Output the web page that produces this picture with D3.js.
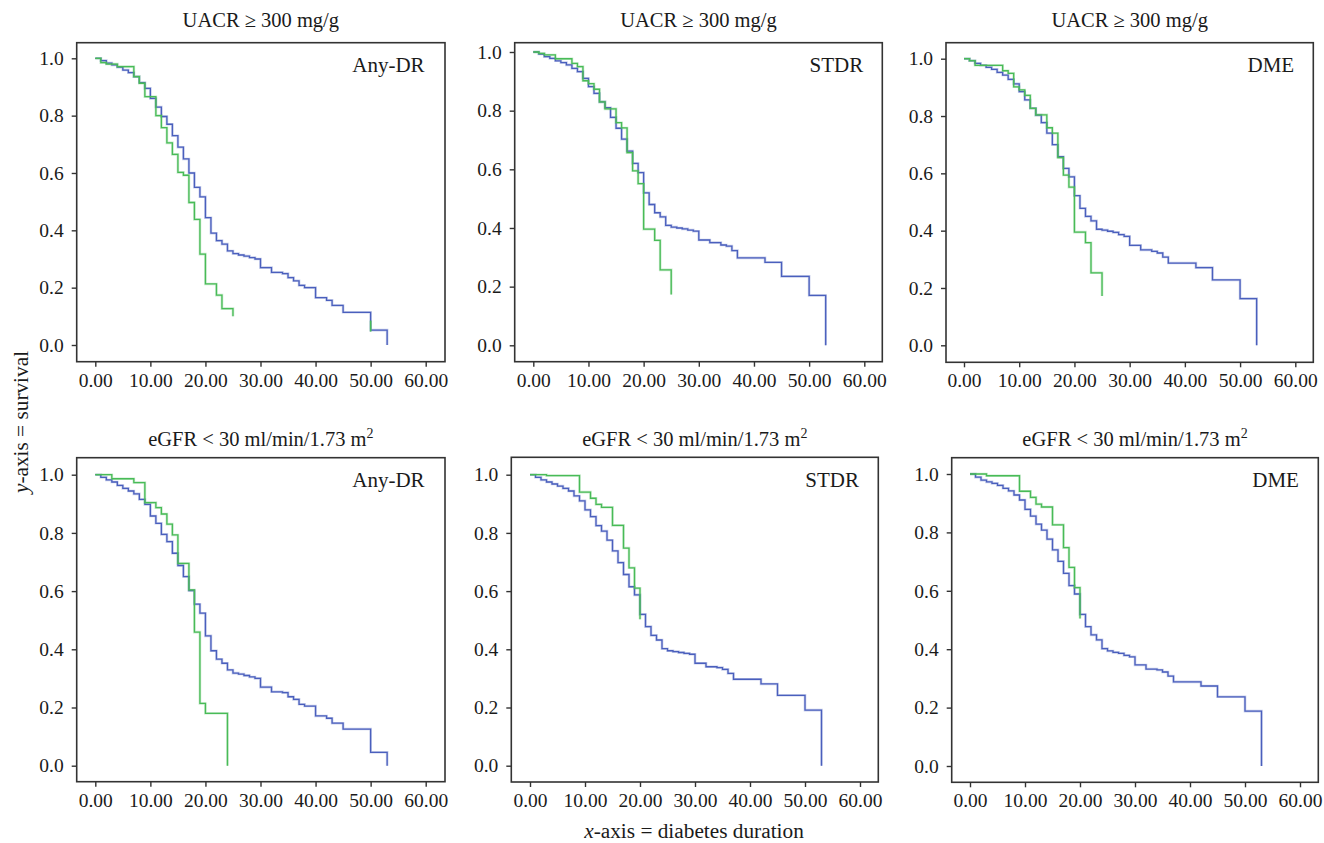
<!DOCTYPE html>
<html>
<head>
<meta charset="utf-8">
<script src="https://cdn.jsdelivr.net/npm/d3@7"></script>
<style>
  body { margin: 0; background: #fff; }
  text { font-family: "Liberation Serif", "Times New Roman", serif; fill: #1a1a1a; }
</style>
</head>
<body>
<div id="chart"></div>
<script>
// ---- data: Kaplan-Meier step points (time in years, survival) ----
let yearsTo30 = [0,1,2,3,4,5,6,7,8,9,10,11,12,13,14,15,16,17,18,19,20,21,22,23,24,25,26,27,28,29,30];

// UACR >= 300, Any-DR
let uacrAnyBlueT = yearsTo30.concat([32,34,35,36,37,38,40,42,43,45,50,53]);
let uacrAnyBlueS = [1.0,0.992,0.983,0.977,0.969,0.959,0.95,0.936,0.915,0.895,0.86,0.83,0.797,0.77,0.73,
  0.69,0.649,0.60,0.55,0.517,0.444,0.39,0.364,0.352,0.328,0.319,0.314,0.31,0.305,0.30,
  0.27,0.253,0.249,0.235,0.224,0.208,0.20,0.165,0.156,0.138,0.114,0.052,0.0];
let uacrAnyGreenT = [0,1,2,4,7,8,9,11,12,13,14,15,16,17,18,19,20,22,23,25];
let uacrAnyGreenS = [1.0,0.985,0.98,0.971,0.936,0.913,0.866,0.80,0.758,0.705,0.665,0.602,0.592,0.497,0.438,0.317,0.213,0.174,0.127,0.10];
let uacrAnyGreenTailT = [50,50];
let uacrAnyGreenTailS = [0.085,0.047];

// UACR >= 300, STDR
let uacrStdrBlueT = yearsTo30.concat([32,34,35,36,37,42,45,50,53]);
let uacrStdrBlueS = [1.0,0.993,0.984,0.978,0.97,0.964,0.956,0.944,0.933,0.91,0.882,0.859,0.83,0.81,0.777,
  0.74,0.703,0.662,0.62,0.589,0.52,0.48,0.452,0.438,0.409,0.403,0.40,0.397,0.393,0.389,
  0.359,0.35,0.342,0.338,0.323,0.298,0.283,0.235,0.17,0.0];
let uacrStdrGreenT = [0,1,2,4,7,8,9,10,11,12,13,15,16,17,18,19,20,22,23,25];
let uacrStdrGreenS = [1.0,0.995,0.99,0.977,0.961,0.95,0.902,0.892,0.873,0.83,0.806,0.759,0.741,0.657,0.595,0.551,0.396,0.358,0.257,0.173];

// UACR >= 300, DME
let uacrDmeBlueT = yearsTo30.concat([32,34,35,36,37,42,45,50,53]);
let uacrDmeBlueS = [1.0,0.993,0.984,0.977,0.97,0.963,0.952,0.943,0.928,0.912,0.885,0.856,0.827,0.803,0.777,
  0.74,0.70,0.658,0.617,0.588,0.522,0.478,0.45,0.434,0.405,0.402,0.398,0.394,0.386,0.38,
  0.349,0.333,0.328,0.322,0.308,0.287,0.271,0.228,0.163,0.0];
let uacrDmeGreenT = [0,1,2,7,8,9,10,11,12,13,15,16,17,18,19,20,22,23,25];
let uacrDmeGreenS = [1.0,0.993,0.977,0.958,0.949,0.902,0.891,0.872,0.827,0.804,0.759,0.74,0.655,0.594,0.552,0.395,0.358,0.253,0.172];

// eGFR < 30, Any-DR
let egfrAnyBlueT = yearsTo30.concat([32,34,35,36,37,38,40,42,43,45,50,53]);
let egfrAnyBlueS = [1.0,0.991,0.982,0.975,0.963,0.953,0.944,0.934,0.915,0.898,0.858,0.833,0.795,0.77,0.73,
  0.688,0.65,0.602,0.555,0.524,0.446,0.395,0.366,0.352,0.329,0.318,0.315,0.31,0.305,0.30,
  0.27,0.254,0.251,0.237,0.228,0.211,0.205,0.171,0.163,0.146,0.126,0.046,0.0];
let egfrAnyGreenT = [0,3,7,9,11,12,13,14,15,17,18,19,20,24];
let egfrAnyGreenS = [1.0,0.986,0.973,0.904,0.887,0.865,0.83,0.793,0.695,0.604,0.459,0.214,0.18,0.0];

// eGFR < 30, STDR
let egfrStdrBlueT = yearsTo30.concat([32,34,35,36,37,42,45,50,53]);
let egfrStdrBlueS = [1.0,0.991,0.982,0.975,0.968,0.961,0.953,0.944,0.927,0.91,0.879,0.856,0.825,0.806,0.775,
  0.738,0.698,0.657,0.615,0.587,0.52,0.478,0.448,0.432,0.402,0.395,0.392,0.389,0.386,0.383,
  0.352,0.34,0.337,0.331,0.317,0.297,0.281,0.242,0.191,0.0];
let egfrStdrGreenT = [0,3,9,11,12,13,15,17,18,19,20];
let egfrStdrGreenS = [1.0,0.997,0.94,0.919,0.898,0.888,0.826,0.748,0.68,0.61,0.503];

// eGFR < 30, DME
let egfrDmeBlueT = yearsTo30.concat([32,34,35,36,37,42,45,50,53]);
let egfrDmeBlueS = [1.0,0.989,0.979,0.973,0.968,0.961,0.951,0.942,0.928,0.911,0.879,0.856,0.828,0.808,0.777,
  0.74,0.701,0.66,0.618,0.589,0.519,0.477,0.449,0.432,0.402,0.394,0.389,0.386,0.379,0.374,
  0.346,0.332,0.329,0.322,0.308,0.288,0.274,0.237,0.188,0.0];
let egfrDmeGreenT = [0,3,9,11,12,13,15,17,18,19,20];
let egfrDmeGreenS = [1.0,0.994,0.941,0.92,0.897,0.887,0.826,0.748,0.68,0.611,0.505];

// axis ticks
let xTicks = [0,10,20,30,40,50,60];
let yTicks = [0.0,0.2,0.4,0.6,0.8,1.0];

let svgWidth = 1324;
let svgHeight = 843;
let blueColor = "#4a5fbd";
let greenColor = "#48bb57";

let panels = [
  {row: 0, label: "Any-DR", box: [76.7, 42.7, 445, 361.7], x0: 95.3, x60: 425.7, y1: 58.3, y0: 345,
   blue: [uacrAnyBlueT, uacrAnyBlueS], green: [[uacrAnyGreenT, uacrAnyGreenS], [uacrAnyGreenTailT, uacrAnyGreenTailS]]},
  {row: 0, label: "STDR", box: [514.7, 42.7, 882.3, 361.7], x0: 533.3, x60: 864.3, y1: 52, y0: 345.3,
   blue: [uacrStdrBlueT, uacrStdrBlueS], green: [[uacrStdrGreenT, uacrStdrGreenS]]},
  {row: 0, label: "DME", box: [946, 42.7, 1313.3, 362.3], x0: 964, x60: 1295.3, y1: 58.7, y0: 345.3,
   blue: [uacrDmeBlueT, uacrDmeBlueS], green: [[uacrDmeGreenT, uacrDmeGreenS]]},
  {row: 1, label: "Any-DR", box: [76.7, 457.7, 445, 781.7], x0: 95.3, x60: 425.7, y1: 474.7, y0: 765.7,
   blue: [egfrAnyBlueT, egfrAnyBlueS], green: [[egfrAnyGreenT, egfrAnyGreenS]]},
  {row: 1, label: "STDR", box: [511.3, 457.3, 878.3, 782], x0: 530, x60: 860, y1: 474.7, y0: 765.7,
   blue: [egfrStdrBlueT, egfrStdrBlueS], green: [[egfrStdrGreenT, egfrStdrGreenS]]},
  {row: 1, label: "DME", box: [951.7, 457.7, 1318.3, 782.3], x0: 970, x60: 1300, y1: 474, y0: 766,
   blue: [egfrDmeBlueT, egfrDmeBlueS], green: [[egfrDmeGreenT, egfrDmeGreenS]]}
];

let svg = d3.select("#chart")
  .append("svg")
  .attr("width", svgWidth)
  .attr("height", svgHeight);

// zip time / survival arrays into points
function toPoints(t, s) {
  return t.map((d, i) => [d, s[i]]);
}

function drawCurve(g, pts, color, xs, ys) {
  let line = d3.line()
    .x(d => xs(d[0]))
    .y(d => ys(d[1]))
    .curve(d3.curveStepAfter);
  // soft halo like the anti-aliased original
  g.append("path").attr("d", line(pts))
    .attr("fill", "none").attr("stroke", color).attr("stroke-opacity", 0.3).attr("stroke-width", 2.6);
  g.append("path").attr("d", line(pts))
    .attr("fill", "none").attr("stroke", color).attr("stroke-width", 1.3);
}

panels.forEach(function(p) {
  let [L, T, R, B] = p.box;
  let xScale = d3.scaleLinear().domain([0, 60]).range([p.x0, p.x60]);
  let yScale = d3.scaleLinear().domain([0, 1]).range([p.y0, p.y1]);
  let g = svg.append("g");

  // frame
  g.append("rect")
    .attr("x", L).attr("y", T)
    .attr("width", R - L).attr("height", B - T)
    .attr("fill", "none").attr("stroke", "#333").attr("stroke-width", 1.6);

  // axes
  let xAxis = g.append("g")
    .attr("transform", `translate(0,${B})`)
    .call(d3.axisBottom(xScale).tickValues(xTicks).tickFormat(d3.format(".2f")).tickSize(5).tickPadding(6));
  let yAxis = g.append("g")
    .attr("transform", `translate(${L},0)`)
    .call(d3.axisLeft(yScale).tickValues(yTicks).tickFormat(d3.format(".1f")).tickSize(5).tickPadding(8));
  [xAxis, yAxis].forEach(a => {
    a.select(".domain").remove();
    a.selectAll("line").attr("stroke", "#333").attr("stroke-width", 1.4);
    a.selectAll("text").attr("font-size", "19.5px").attr("fill", "#1a1a1a")
      .style("font-family", "'Liberation Serif', serif");
  });

  // curves
  drawCurve(g, toPoints(p.blue[0], p.blue[1]), blueColor, xScale, yScale);
  p.green.forEach(gr => drawCurve(g, toPoints(gr[0], gr[1]), greenColor, xScale, yScale));

  // panel label
  g.append("text")
    .attr("x", xScale(59.8))
    .attr("y", T + 29.5)
    .attr("text-anchor", "end")
    .attr("font-size", "21px")
    .text(p.label);

  // title
  let title = g.append("text")
    .attr("x", (L + R) / 2)
    .attr("y", p.row === 0 ? 27 : 446)
    .attr("text-anchor", "middle")
    .attr("font-size", "20.5px");
  if (p.row === 0) {
    title.text("UACR \u2265 300 mg/g");
  } else {
    title.append("tspan").text("eGFR < 30 ml/min/1.73 m");
    title.append("tspan").attr("font-size", "14px").attr("dy", -8).text("2");
  }
});

// shared axis labels
let xLabel = svg.append("text")
  .attr("x", 694)
  .attr("y", 838)
  .attr("text-anchor", "middle")
  .attr("font-size", "21.3px");
xLabel.append("tspan").attr("font-style", "italic").text("x");
xLabel.append("tspan").text("-axis = diabetes duration");

let yLabel = svg.append("text")
  .attr("transform", "translate(28,422) rotate(-90)")
  .attr("text-anchor", "middle")
  .attr("font-size", "21.3px");
yLabel.append("tspan").attr("font-style", "italic").text("y");
yLabel.append("tspan").text("-axis = survival");
</script>
</body>
</html>
